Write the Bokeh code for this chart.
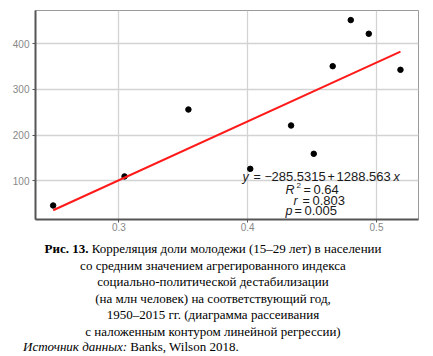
from bokeh.plotting import figure
from bokeh.layouts import column
from bokeh.models import Range1d, FixedTicker, Label, Div, InlineStyleSheet
from bokeh.embed import file_html
from bokeh.resources import INLINE

# data
youth_share = [0.249, 0.3044, 0.354, 0.402, 0.4337, 0.4513, 0.466, 0.480, 0.494, 0.5186]
destab_index = [45.7, 109.4, 256, 126, 221, 159, 351, 452, 422, 343]
intercept = -285.5315
slope = 1288.563
r_squared = "0.64"
r_value = "0.803"
p_value = "0.005"
x_ticks = [0.3, 0.4, 0.5]
y_ticks = [100, 200, 300, 400]
caption_lines = [
    "со средним значением агрегированного индекса",
    "социально-политической дестабилизации",
    "(на млн человек) на соответствующий год,",
    "1950–2015 гг. (диаграмма рассеивания",
    "с наложенным контуром линейной регрессии)",
]
caption_bold = "Рис. 13."
caption_first = "Корреляция доли молодежи (15–29 лет) в населении"
source_italic = "Источник данных:"
source_text = "Banks, Wilson 2018."

FRAME_L, FRAME_B, PLOT_H = 35, 219, 236

p = figure(width=433, height=PLOT_H, output_backend="svg", toolbar_location=None,
           x_range=Range1d(0.2353, 0.5326), y_range=Range1d(15, 473),
           min_border_left=FRAME_L, min_border_right=15, min_border_top=10,
           min_border_bottom=PLOT_H - FRAME_B)
p.background_fill_color = "white"
p.border_fill_color = "white"
p.outline_line_color = "#9a9a9a"
p.outline_line_width = 1

for ax, ticks in ((p.xaxis, x_ticks), (p.yaxis, y_ticks)):
    ax.ticker = FixedTicker(ticks=ticks)
    ax.axis_line_color = "#555555"
    ax.axis_line_width = 2
    ax.major_tick_line_color = "#555555"
    ax.major_tick_in = 0
    ax.major_tick_out = 3
    ax.minor_tick_line_color = None
    ax.major_label_text_color = "#888888"
    ax.major_label_text_font = "Liberation Sans"
    ax.major_label_text_font_size = "10px"
p.xaxis.major_label_standoff = 0
p.yaxis.major_label_standoff = 3
p.xaxis.major_label_overrides = {0.3: "0.3", 0.4: "0.4", 0.5: "0.5"}

p.xgrid.ticker = FixedTicker(ticks=x_ticks)
p.ygrid.ticker = FixedTicker(ticks=y_ticks)
p.grid.grid_line_color = "#d3d3d3"
p.grid.grid_line_width = 1.3

p.scatter(youth_share, destab_index, size=5.5, color="black")
xs = [min(youth_share), max(youth_share)]
p.line(xs, [intercept + slope * v for v in xs], line_color="#ff1a1a", line_width=2)


def put(text, X, Y, size="12.5px", style="normal"):
    p.add_layout(Label(x=X - FRAME_L, y=FRAME_B - Y, x_units="screen", y_units="screen",
                       text=text, text_font="Liberation Sans", text_font_size=size,
                       text_font_style=style, text_align="left", text_baseline="middle",
                       text_color="#1a1a1a"))


# regression statistics
put("y", 242, 176, style="italic")
put("=", 253, 176)
put("−", 264, 176)
put(f"{-intercept:.4f}", 271, 176, size="13px")
put("+", 327, 176)
put(f"{slope:.3f}", 336, 176, size="13px")
put("x", 393, 176, style="italic")

put("R", 285, 189, style="italic")
put("2", 296, 185, size="8px")
put("=", 303, 189)
put(r_squared, 313, 189, size="13px")

put("r", 293, 200, style="italic")
put("=", 302, 200)
put(r_value, 312, 200, size="13px")

put("p", 285, 210, style="italic")
put("=", 294, 210)
put(p_value, 304, 210, size="13px")

# caption
css = InlineStyleSheet(css="""
:host, :host * {
  font-family: "Liberation Serif", "Times New Roman", serif !important;
  font-size: 13px !important;
  color: black !important;
}
.cap { line-height: 16.5px; width: 433px; padding-top: 5px; }
.mid { width: 426px; text-align: center; }
.src { padding-left: 23px; margin-top: -1px; }
""")
center_rows = "".join(f"<div>{line}</div>" for line in caption_lines)
html = (
    "<div class='cap'><div class='mid'>"
    f"<div><b>{caption_bold}</b> {caption_first}</div>"
    f"{center_rows}</div>"
    f"<div class='src'><i>{source_italic}</i> {source_text}</div>"
    "</div>"
)
cap = Div(text=html, width=433, height=356 - PLOT_H, margin=(0, 0, 0, 0), stylesheets=[css])

layout = column(p, cap, spacing=0)
open("out.html", "w").write(file_html(layout, INLINE))
